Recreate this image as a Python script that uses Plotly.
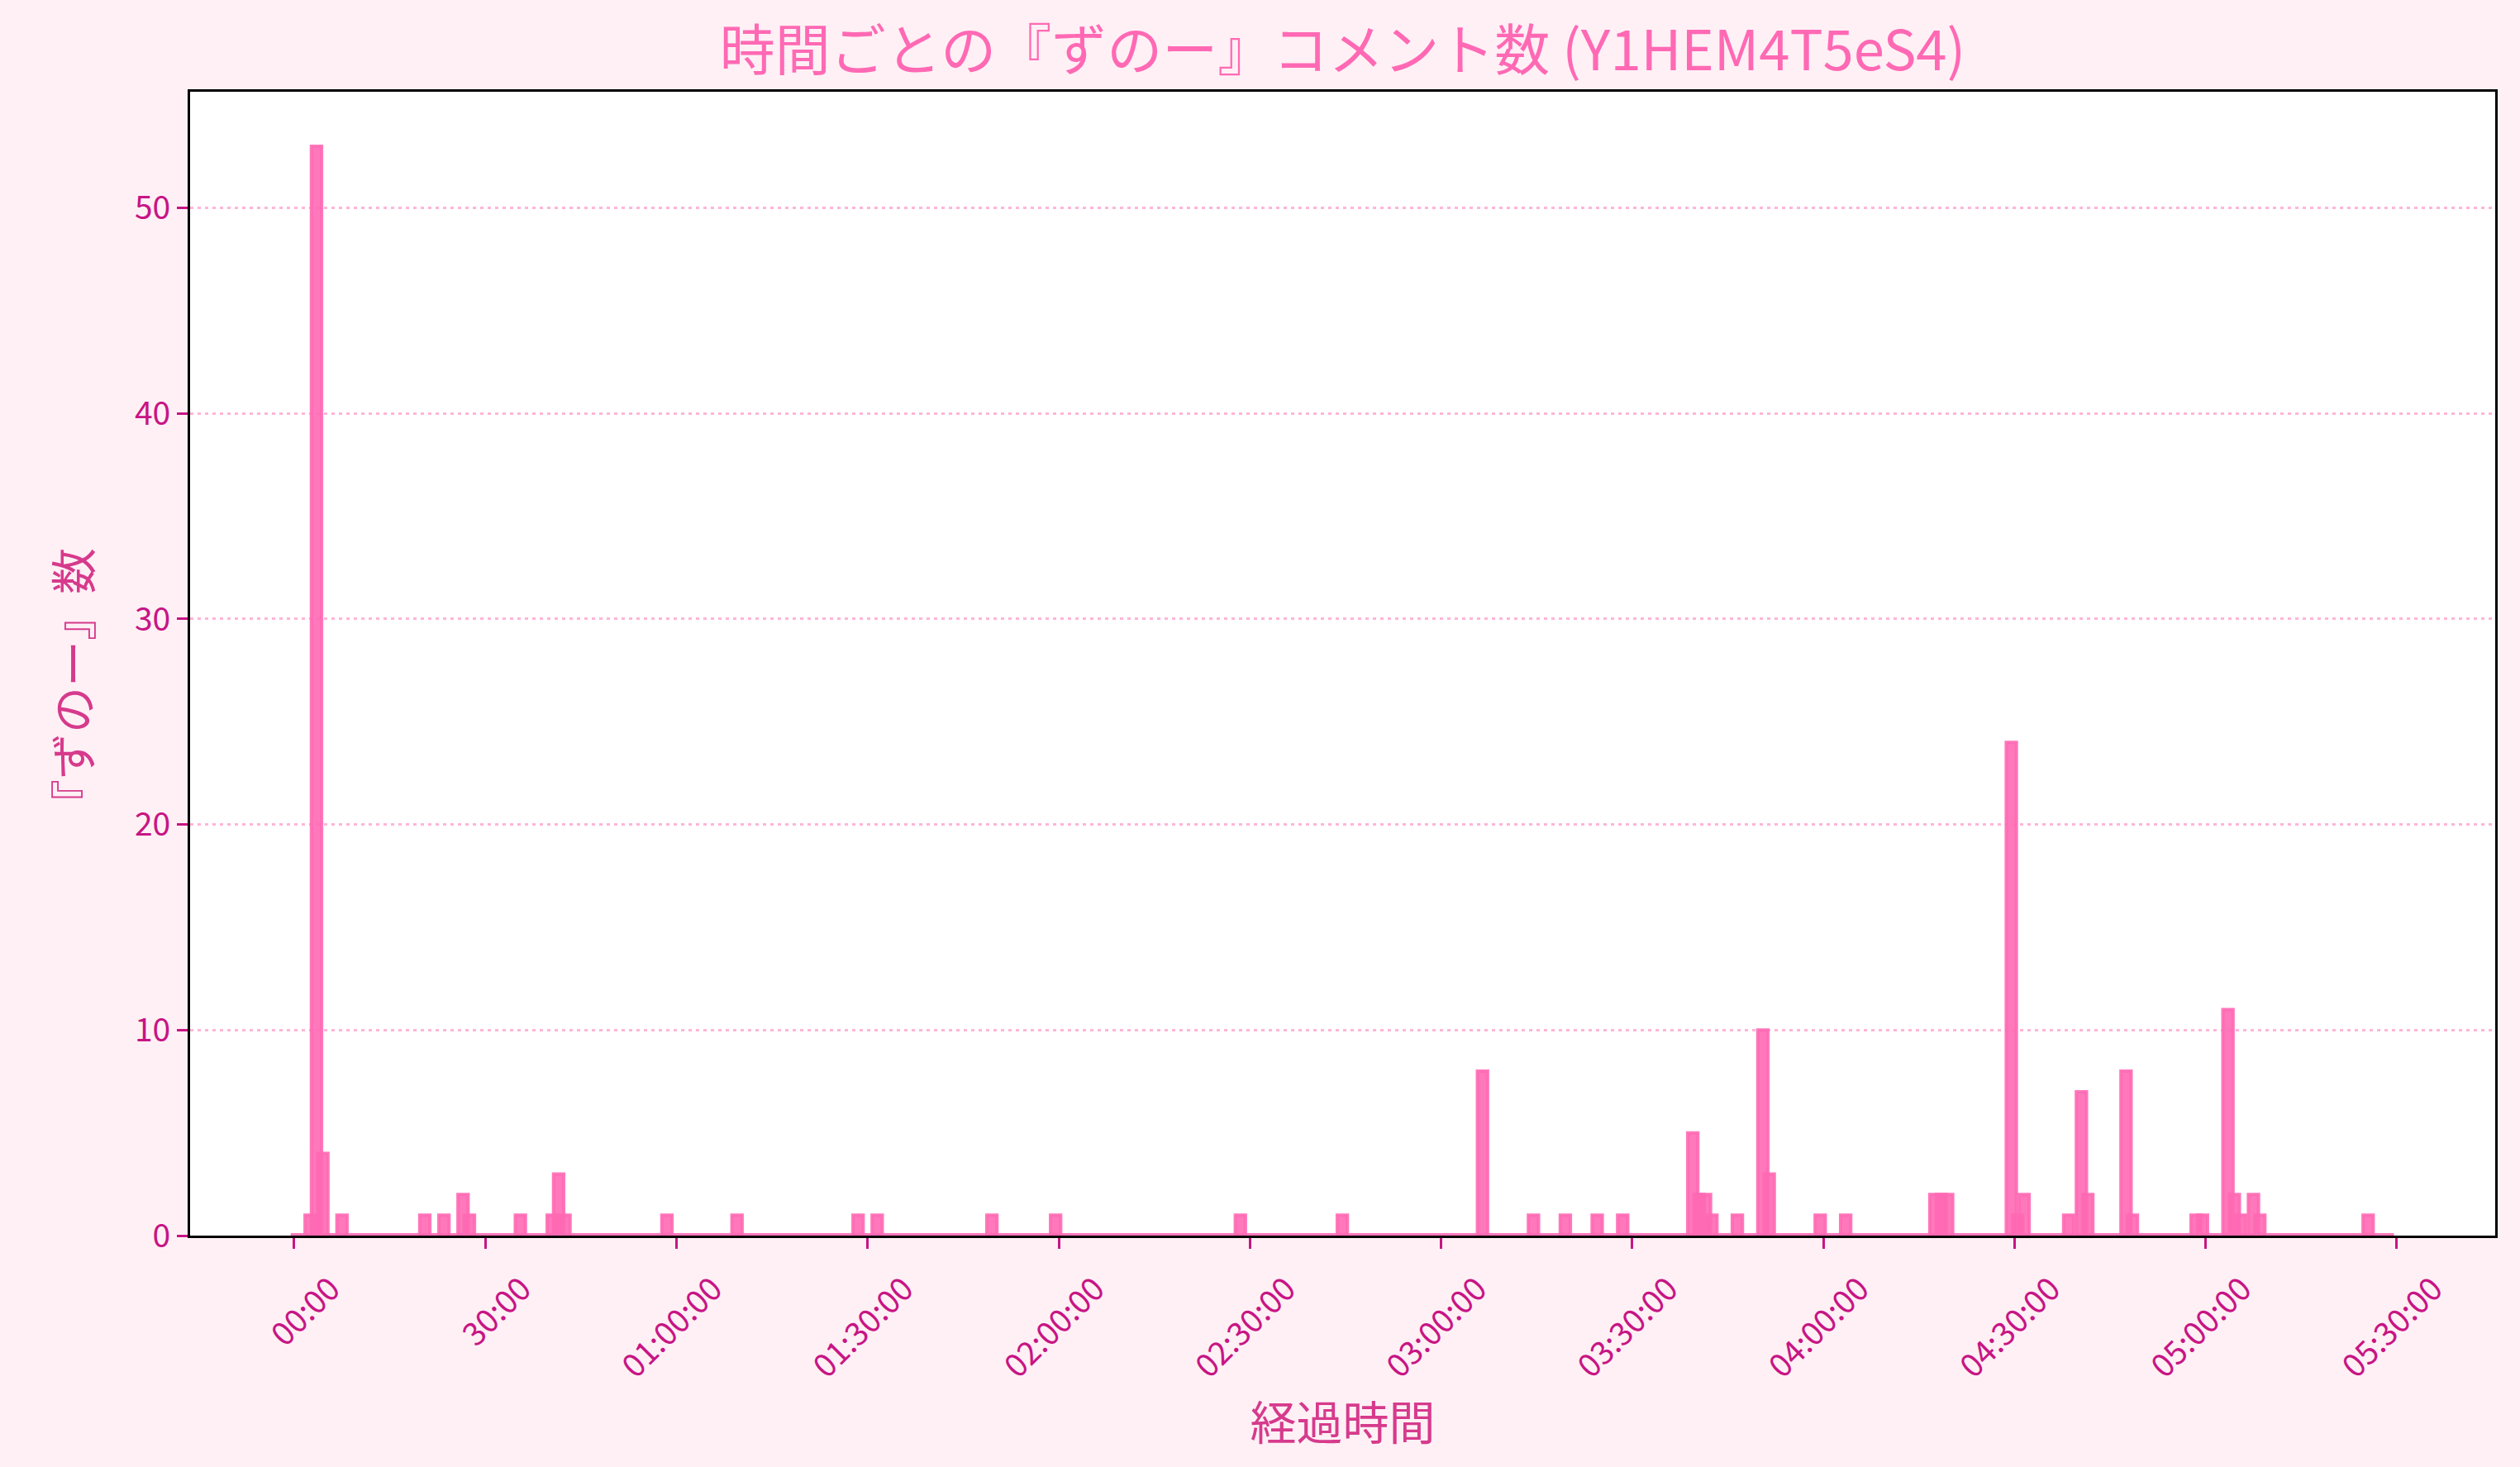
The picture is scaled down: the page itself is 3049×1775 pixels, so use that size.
import plotly.graph_objects as go

# ---------------- data ----------------
TITLE = "時間ごとの『ずのー』コメント数 (Y1HEM4T5eS4)"
X_LABEL = "経過時間"
Y_LABEL = "『ずのー』数"

# 1-minute bins (bin start, minutes from stream start) that contain comments
bin_minutes = [2, 3, 4, 7, 20, 23, 26, 27, 35, 40, 41, 42, 58, 69, 88, 91,
               109, 119, 148, 164, 186, 194, 199, 204, 208, 219, 220, 221,
               222, 226, 230, 231, 239, 243, 257, 258, 259, 269, 270, 271,
               278, 280, 281, 287, 288, 298, 299, 303, 304, 305, 307, 308, 325]
counts = [1, 53, 4, 1, 1, 1, 2, 1, 1, 1, 3, 1, 1, 1, 1, 1,
          1, 1, 1, 1, 8, 1, 1, 1, 1, 5, 2, 2,
          1, 1, 10, 3, 1, 1, 2, 2, 2, 24, 1, 2,
          1, 7, 2, 8, 1, 1, 1, 11, 2, 1, 2, 1, 1]
first_bin = 0          # first minute bin of the stream
last_bin = 328         # last minute bin of the stream

tick_minutes = [0, 30, 60, 90, 120, 150, 180, 210, 240, 270, 300, 330]
tick_labels = ["00:00", "30:00", "01:00:00", "01:30:00", "02:00:00", "02:30:00",
               "03:00:00", "03:30:00", "04:00:00", "04:30:00", "05:00:00", "05:30:00"]

# ---------------- style ----------------
FONT = "Noto Sans CJK JP"
BAR_FILL = "rgba(255,105,180,0.9)"
BAR_EDGE = "rgba(255,105,180,0.9)"
TICK_COLOR = "#C71585"
LABEL_COLOR = "#D63A8C"
TITLE_COLOR = "#FF69B4"
GRID_COLOR = "#FFB5D8"
BAR_WIDTH = 1.6      # minutes (plus edge)
BIN = 1.0

centers = [m + BIN / 2 for m in bin_minutes]
half = (BAR_WIDTH / 2) + 0.25

fig = go.Figure()
# baseline of empty bins (zero-height bars drawn with an edge)
fig.add_trace(go.Scatter(
    x=[first_bin + BIN / 2 - half, last_bin + BIN / 2 + half], y=[0, 0],
    mode="lines", line=dict(color=BAR_EDGE, width=6),
    hoverinfo="skip", showlegend=False,
))
fig.add_trace(go.Bar(
    x=centers, y=counts, width=BAR_WIDTH,
    marker=dict(color=BAR_FILL, line=dict(color=BAR_EDGE, width=4)),
    showlegend=False,
))

fig.update_layout(
    width=3049, height=1775,
    paper_bgcolor="#FFF0F5", plot_bgcolor="white",
    margin=dict(l=230, r=30, t=111, b=280, autoexpand=False),
    font=dict(family=FONT),
    barmode="overlay",
    title=dict(text=TITLE, x=0.5, xref="paper", xanchor="center",
               y=1 - 62 / 1775, yref="container", yanchor="middle",
               font=dict(family=FONT, size=67, color=TITLE_COLOR)),
)

fig.update_xaxes(
    range=[-16.34, 345.44],
    tickmode="array", tickvals=tick_minutes, ticktext=tick_labels,
    tickangle=-45, ticklabelshift=44, ticklabelstandoff=10,
    ticks="outside", ticklen=13, tickwidth=3, tickcolor=TICK_COLOR,
    tickfont=dict(family=FONT, size=39, color=TICK_COLOR),
    showgrid=False, zeroline=False,
    showline=True, linecolor="black", linewidth=3, mirror=True,
    title=dict(text=X_LABEL, font=dict(family=FONT, size=56, color=LABEL_COLOR),
               standoff=14),
)
fig.update_yaxes(
    range=[0, 55.65],
    tickmode="array", tickvals=[0, 10, 20, 30, 40, 50],
    ticks="outside", ticklen=13, tickwidth=3, tickcolor=TICK_COLOR,
    tickfont=dict(family=FONT, size=39, color=TICK_COLOR),
    showgrid=True, gridcolor=GRID_COLOR, gridwidth=3, griddash="4px,5px",
    zeroline=False,
    showline=True, linecolor="black", linewidth=3, mirror=True,
    title=dict(text=Y_LABEL + "&#12288;",
               font=dict(family=FONT, size=56, color=LABEL_COLOR),
               standoff=35),
)

fig.write_html("out.html",
               config={"displayModeBar": False},
               post_script="document.body.style.margin='0';"
                           "document.body.style.overflow='hidden';")
